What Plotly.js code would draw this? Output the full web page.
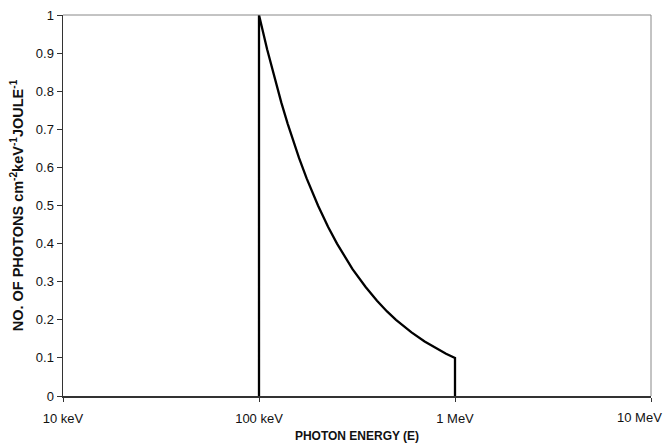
<!DOCTYPE html>
<html>
<head>
<meta charset="utf-8">
<script src="https://cdn.plot.ly/plotly-3.0.1.min.js"></script>
<style>html,body{margin:0;padding:0;background:#fff;}#chart{width:665px;height:446px;}</style>
</head>
<body>
<div id="chart"></div>
<script>
// Photon energy in keV and relative number of photons
const energyKeV = [100, 100, 110, 120, 130, 140, 150, 160, 175, 200, 225, 250, 300, 350, 400, 450, 500, 600, 700, 800, 900, 1000, 1000];
const photons   = [0, 1.0, 0.91, 0.835, 0.77, 0.715, 0.667, 0.625, 0.571, 0.5, 0.444, 0.4, 0.333, 0.286, 0.25, 0.222, 0.2, 0.167, 0.143, 0.125, 0.111, 0.1, 0];
const xTickVals = [10, 100, 1000, 10000];
const xTickText = ["10 keV", "100 keV", "1 MeV", "10 MeV"];
const yTickVals = [0, 0.1, 0.2, 0.3, 0.4, 0.5, 0.6, 0.7, 0.8, 0.9, 1];
const yTickText = ["0", "0.1", "0.2", "0.3", "0.4", "0.5", "0.6", "0.7", "0.8", "0.9", "1"];

const font = "Liberation Sans, Arial, sans-serif";
const n = xTickVals.length;

const trace = {
  x: energyKeV, y: photons, type: "scatter", mode: "lines",
  line: {color: "#000", width: 2.3}, hoverinfo: "skip", showlegend: false
};

const layout = {
  width: 665, height: 446,
  margin: {l: 63, r: 14, t: 15, b: 50},
  paper_bgcolor: "#fff", plot_bgcolor: "#fff",
  font: {family: font, color: "#111", size: 13},
  xaxis: {
    type: "log", range: [1, 4], tickvals: xTickVals,
    // last label is drawn as an annotation so that it stays inside the page, as in the original
    ticktext: xTickText.map((t, i) => i === n - 1 ? "" : t),
    showgrid: false, zeroline: false, showline: true, linecolor: "#333", linewidth: 1.5,
    ticks: "outside", ticklen: 4, tickcolor: "#333", tickwidth: 1,
    ticklabelstandoff: 6,
    tickfont: {family: font, size: 13, color: "#111"},
    title: {text: "<b>PHOTON ENERGY (E)</b>", font: {family: font, size: 12, color: "#111"}, standoff: 6}
  },
  yaxis: {
    range: [0, 1], tickvals: yTickVals, ticktext: yTickText,
    showgrid: false, zeroline: false, showline: true, linecolor: "#333", linewidth: 1.5,
    ticks: "outside", ticklen: 5, tickcolor: "#333", tickwidth: 1,
    tickfont: {family: font, size: 13, color: "#111"},
    title: {text: "<b>NO. OF PHOTONS cm<sup>-2</sup>keV<sup>-1</sup>JOULE<sup>-1</sup></b>", font: {family: font, size: 14.5, color: "#111"}, standoff: 8}
  },
  annotations: [
    {x: Math.log10(xTickVals[n - 1]), xref: "x", y: 0, yref: "paper",
     text: xTickText[n - 1], showarrow: false, xanchor: "right", yanchor: "top",
     xshift: 13, yshift: -12, font: {family: font, size: 13, color: "#111"}}
  ],
  shapes: [
    {type: "line", xref: "paper", yref: "paper", x0: 0, x1: 1, y0: 1, y1: 1, line: {color: "#888", width: 1}},
    {type: "line", xref: "paper", yref: "paper", x0: 1, x1: 1, y0: 0, y1: 1, line: {color: "#888", width: 1}}
  ]
};

Plotly.newPlot("chart", [trace], layout, {staticPlot: true, displayModeBar: false});
</script>
</body>
</html>
